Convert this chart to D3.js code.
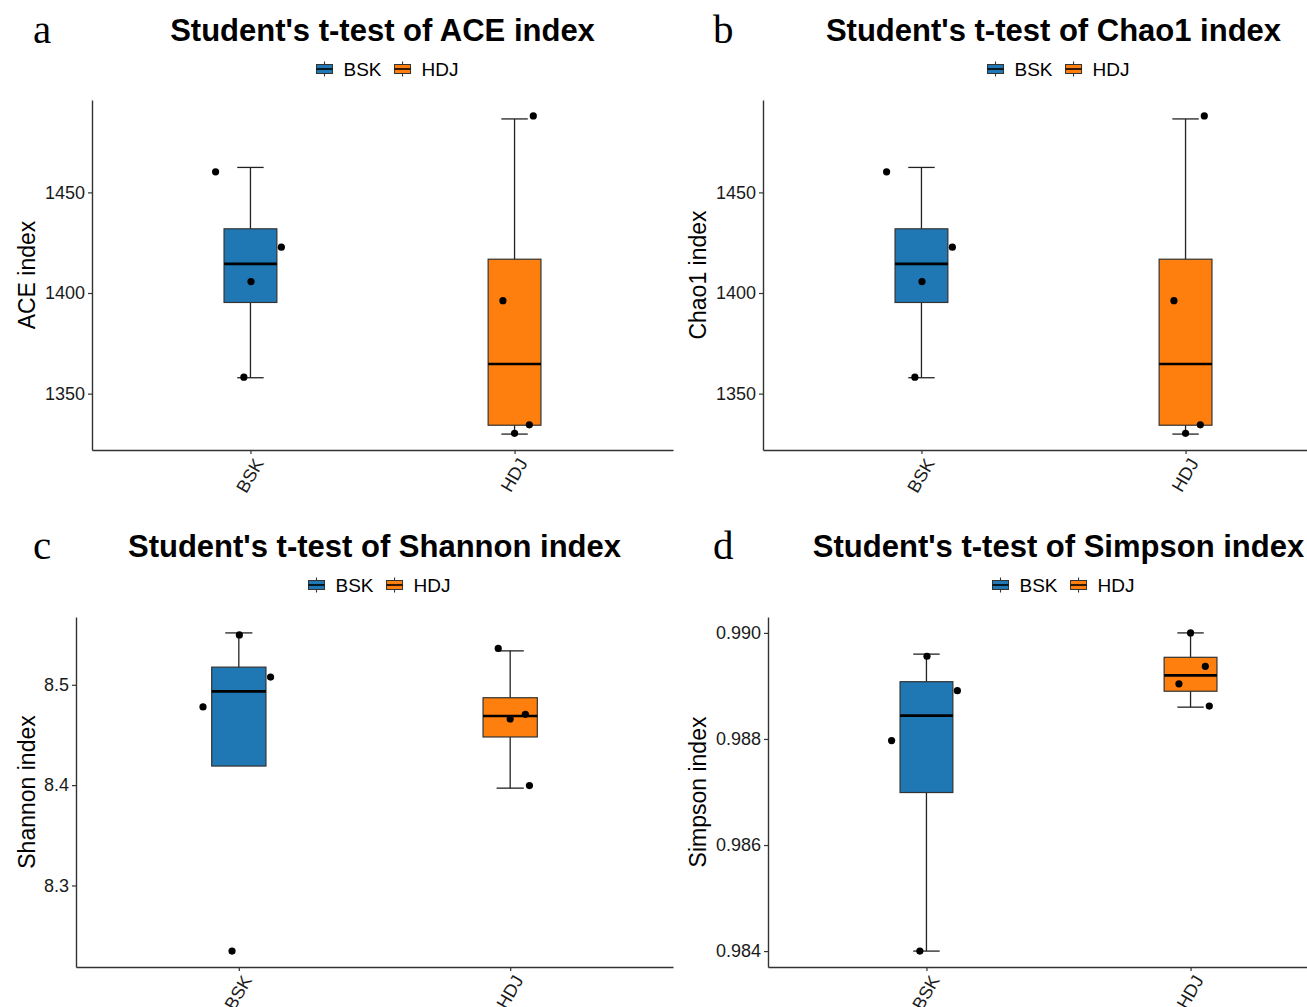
<!DOCTYPE html>
<html>
<head>
<meta charset="utf-8">
<script src="https://cdn.jsdelivr.net/npm/d3@7"></script>
<style>
  html, body { margin: 0; padding: 0; background: #fff; }
  svg { display: block; }
</style>
</head>
<body>
<script>
// ---------------- DATA ----------------
const categories = ["BSK", "HDJ"];
const groupColors = ["#1F77B4", "#FF7F0E"];
const panelLetters = ["a", "b", "c", "d"];
const panelTitles = [
  "Student's t-test of ACE index",
  "Student's t-test of Chao1 index",
  "Student's t-test of Shannon index",
  "Student's t-test of Simpson index"
];
const yTitles = ["ACE index", "Chao1 index", "Shannon index", "Simpson index"];

// jitter offsets (category units) per sample, shared by all panels
const jitterBSK = [-0.132, 0.117, 0.002, -0.025];
const jitterHDJ = [0.000, 0.056, -0.044, 0.071];

// sample values (4 per group)
const aceBSK = [1460.2, 1422.8, 1405.7, 1358.2];
const aceHDJ = [1330.3, 1334.5, 1396.2, 1488.0];
const chao1BSK = [1460.2, 1422.8, 1405.7, 1358.2];
const chao1HDJ = [1330.3, 1334.5, 1396.2, 1488.0];
const shannonBSK = [8.4779, 8.5077, 8.5497, 8.2346];
const shannonHDJ = [8.4659, 8.4706, 8.5362, 8.3996];
const simpsonBSK = [0.98797, 0.98891, 0.98956, 0.98400];
const simpsonHDJ = [0.99000, 0.98937, 0.98904, 0.98862];

// box statistics: [whisker low, Q1, median, Q3, whisker high]
const aceBoxBSK = [1357.9, 1395.3, 1414.5, 1431.9, 1462.4];
const aceBoxHDJ = [1329.9, 1334.3, 1364.7, 1416.8, 1486.5];
const chao1BoxBSK = [1357.9, 1395.3, 1414.5, 1431.9, 1462.4];
const chao1BoxHDJ = [1329.9, 1334.3, 1364.7, 1416.8, 1486.5];
const shannonBoxBSK = [8.4790, 8.4190, 8.4934, 8.5176, 8.5517];
const shannonBoxHDJ = [8.3970, 8.4480, 8.4689, 8.4871, 8.5338];
const simpsonBoxBSK = [0.98400, 0.98699, 0.98844, 0.98908, 0.98960];
const simpsonBoxHDJ = [0.98860, 0.98890, 0.98920, 0.98954, 0.99000];

// y tick values
const aceTicks = [1350, 1400, 1450];
const chao1Ticks = [1350, 1400, 1450];
const shannonTicks = [8.3, 8.4, 8.5];
const simpsonTicks = [0.984, 0.986, 0.988, 0.990];

// ---------------- LAYOUT ----------------
const SANS = "'Liberation Sans', Arial, Helvetica, sans-serif";
const SERIF = "'Liberation Serif', 'Times New Roman', Times, serif";
const W = 1307, H = 1007;
const layouts = [
  { x0: 92,  x1: 673,  y0: 100, y1: 450, bx: 0,   by: 0,   lx: 33 },
  { x0: 763, x1: 1344, y0: 100, y1: 450, bx: 671, by: 0,   lx: 713 },
  { x0: 76,  x1: 673,  y0: 617, y1: 967, bx: 0,   by: 516, lx: 33 },
  { x0: 768, x1: 1349, y0: 617, y1: 967, bx: 671, by: 516, lx: 713 }
];

const panels = [
  { pts: [aceBSK, aceHDJ], box: [aceBoxBSK, aceBoxHDJ], ticks: aceTicks, fmt: d3.format("d") },
  { pts: [chao1BSK, chao1HDJ], box: [chao1BoxBSK, chao1BoxHDJ], ticks: chao1Ticks, fmt: d3.format("d") },
  { pts: [shannonBSK, shannonHDJ], box: [shannonBoxBSK, shannonBoxHDJ], ticks: shannonTicks, fmt: d3.format(".1f") },
  { pts: [simpsonBSK, simpsonHDJ], box: [simpsonBoxBSK, simpsonBoxHDJ], ticks: simpsonTicks, fmt: d3.format(".3f") }
];
const jitters = [jitterBSK, jitterHDJ];

const svg = d3.select("body").append("svg")
  .attr("width", W).attr("height", H)
  .attr("viewBox", `0 0 ${W} ${H}`);

panels.forEach((p, i) => {
  const L = layouts[i];
  const g = svg.append("g");

  const allVals = p.pts.flat().concat(p.box.flat());
  const [lo, hi] = d3.extent(allVals);
  const pad = (hi - lo) * 0.05;
  const y = d3.scaleLinear().domain([lo - pad, hi + pad]).range([L.y1, L.y0]);
  const x = d3.scalePoint().domain(categories).range([L.x0, L.x1]).padding(0.6);
  const step = x.step();
  const boxW = step * 0.2, capW = step * 0.1;

  // whiskers (errorbar)
  categories.forEach((c, k) => {
    const b = p.box[k];
    const cx = x(c);
    const eg = g.append("g").attr("stroke", "#222").attr("stroke-width", 1.3).attr("fill", "none");
    eg.append("line").attr("x1", cx).attr("x2", cx).attr("y1", y(b[0])).attr("y2", y(b[4]));
    eg.append("line").attr("x1", cx - capW / 2).attr("x2", cx + capW / 2).attr("y1", y(b[0])).attr("y2", y(b[0]));
    eg.append("line").attr("x1", cx - capW / 2).attr("x2", cx + capW / 2).attr("y1", y(b[4])).attr("y2", y(b[4]));
  });
  // boxes
  categories.forEach((c, k) => {
    const b = p.box[k];
    const cx = x(c);
    g.append("rect")
      .attr("x", cx - boxW / 2).attr("width", boxW)
      .attr("y", y(b[3])).attr("height", y(b[1]) - y(b[3]))
      .attr("fill", groupColors[k]).attr("stroke", "#333").attr("stroke-width", 1.2);
    g.append("line")
      .attr("x1", cx - boxW / 2).attr("x2", cx + boxW / 2)
      .attr("y1", y(b[2])).attr("y2", y(b[2]))
      .attr("stroke", "#000").attr("stroke-width", 2.6);
  });
  // points
  categories.forEach((c, k) => {
    g.selectAll(null).data(p.pts[k]).enter().append("circle")
      .attr("cx", (d, j) => x(c) + jitters[k][j] * step)
      .attr("cy", d => y(d))
      .attr("r", 3.6)
      .attr("fill", "#000");
  });

  // axes
  const ya = g.append("g").attr("transform", `translate(${L.x0},0)`)
    .call(d3.axisLeft(y).tickValues(p.ticks).tickFormat(p.fmt).tickSize(4).tickSizeOuter(0).tickPadding(3));
  ya.select(".domain").attr("stroke", "#333").attr("stroke-width", 1.4);
  ya.selectAll(".tick line").attr("stroke", "#333").attr("stroke-width", 1.2);
  ya.selectAll(".tick text").style("font-size", "18px").style("font-family", SANS).attr("fill", "#1a1a1a");

  const xa = g.append("g").attr("transform", `translate(0,${L.y1})`)
    .call(d3.axisBottom(x).tickSize(4).tickSizeOuter(0).tickPadding(3));
  xa.select(".domain").attr("stroke", "#333").attr("stroke-width", 1.4);
  xa.selectAll(".tick line").attr("stroke", "#333").attr("stroke-width", 1.2);
  xa.selectAll(".tick text")
    .style("font-size", "18px").style("font-family", SANS).attr("fill", "#1a1a1a")
    .attr("text-anchor", "end")
    .attr("dy", null).attr("y", 0)
    .attr("transform", "translate(8,10) rotate(-60)")
    .attr("dominant-baseline", "central");

  // y title
  g.append("text")
    .attr("transform", `translate(${L.bx + 35},${(L.y0 + L.y1) / 2}) rotate(-90)`)
    .attr("text-anchor", "middle")
    .style("font-family", SANS).style("font-size", "23px").attr("fill", "#000")
    .text(yTitles[i]);

  // panel title
  const cxp = (L.x0 + L.x1) / 2;
  g.append("text")
    .attr("x", cxp).attr("y", L.by + 41)
    .attr("text-anchor", "middle")
    .style("font-family", SANS).style("font-size", "31px").style("font-weight", "bold").attr("fill", "#000")
    .text(panelTitles[i]);

  // panel letter
  g.append("text")
    .attr("x", L.lx).attr("y", L.by + 43)
    .style("font-family", SERIF).style("font-size", "41px").attr("fill", "#000")
    .text(panelLetters[i]);

  // legend
  const lg = g.append("g");
  const keyW = 16, keyH = 9;
  let cur = 0;
  categories.forEach((c, k) => {
    const it = lg.append("g").attr("transform", `translate(${cur},0)`);
    it.append("line").attr("x1", keyW / 2).attr("x2", keyW / 2).attr("y1", -7.5).attr("y2", 7.5)
      .attr("stroke", "#333").attr("stroke-width", 1.1);
    it.append("rect").attr("x", 0).attr("y", -keyH / 2).attr("width", keyW).attr("height", keyH)
      .attr("fill", groupColors[k]).attr("stroke", "#333").attr("stroke-width", 1);
    it.append("line").attr("x1", 0).attr("x2", keyW).attr("y1", 0).attr("y2", 0)
      .attr("stroke", "#000").attr("stroke-width", 1.6);
    const t = it.append("text").attr("x", keyW + 11).attr("y", 0).attr("dy", "0.35em")
      .style("font-family", SANS).style("font-size", "19px").attr("fill", "#000").text(c);
    const tw = t.node().getComputedTextLength();
    cur += keyW + 11 + tw + 13;
  });
  const totalW = cur - 13;
  lg.attr("transform", `translate(${cxp - totalW / 2 + 5},${L.by + 69})`);
});
</script>
</body>
</html>
